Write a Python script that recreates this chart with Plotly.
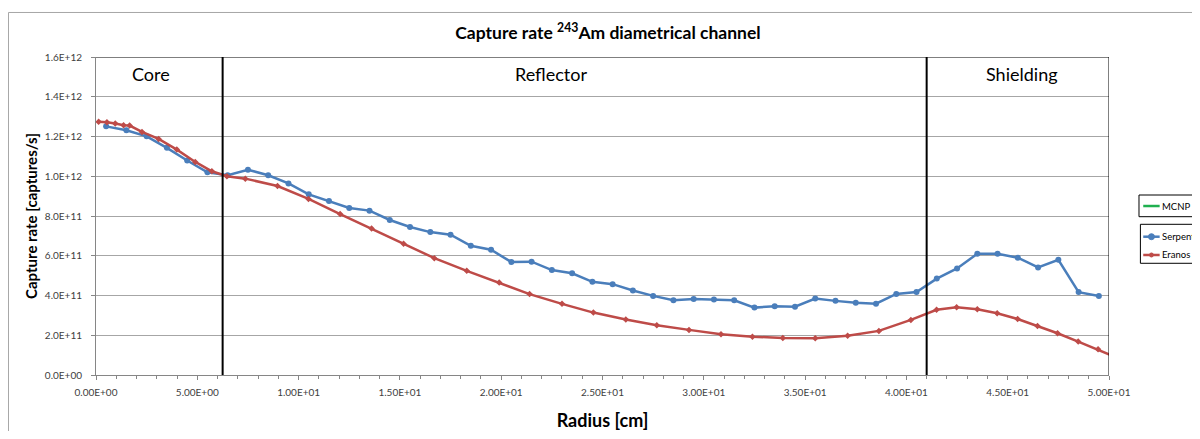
import plotly.graph_objects as go

# Serpent results (captures/s) along the diametrical channel
serpent_r = [0.5, 1.5, 2.5, 3.5, 4.5, 5.5, 6.5, 7.5, 8.5, 9.5,
             10.5, 11.5, 12.5, 13.5, 14.5, 15.5, 16.5, 17.5, 18.5, 19.5,
             20.5, 21.5, 22.5, 23.5, 24.5, 25.5, 26.5, 27.5, 28.5, 29.5,
             30.5, 31.5, 32.5, 33.5, 34.5, 35.5, 36.5, 37.5, 38.5, 39.5,
             40.5, 41.5, 42.5, 43.5, 44.5, 45.5, 46.5, 47.5, 48.5, 49.5]
serpent_rate = [1.251e12, 1.231e12, 1.201e12, 1.143e12, 1.079e12, 1.020e12, 1.005e12, 1.033e12, 1.005e12, 0.964e12,
                0.909e12, 0.875e12, 0.840e12, 0.827e12, 0.780e12, 0.745e12, 0.719e12, 0.706e12, 0.650e12, 0.630e12,
                0.568e12, 0.570e12, 0.528e12, 0.512e12, 0.469e12, 0.457e12, 0.425e12, 0.398e12, 0.376e12, 0.383e12,
                0.380e12, 0.376e12, 0.339e12, 0.346e12, 0.344e12, 0.385e12, 0.373e12, 0.363e12, 0.359e12, 0.408e12,
                0.417e12, 0.485e12, 0.536e12, 0.610e12, 0.610e12, 0.590e12, 0.541e12, 0.580e12, 0.417e12, 0.397e12]

# Eranos results
eranos_r = [0.13, 0.54, 0.95, 1.36, 1.66, 2.27, 3.09, 3.99, 4.90, 5.72,
            6.46, 7.37, 8.96, 10.49, 12.05, 13.60, 15.18, 16.70, 18.30, 19.90,
            21.40, 23.00, 24.55, 26.15, 27.68, 29.27, 30.85, 32.40, 33.90, 35.50,
            37.10, 38.64, 40.22, 41.49, 42.48, 43.50, 44.48, 45.49, 46.47, 47.46,
            48.48, 49.46, 50.46]
eranos_rate = [1.274e12, 1.272e12, 1.265e12, 1.257e12, 1.255e12, 1.223e12, 1.188e12, 1.134e12, 1.072e12, 1.025e12,
               1.000e12, 0.988e12, 0.951e12, 0.886e12, 0.810e12, 0.737e12, 0.660e12, 0.588e12, 0.524e12, 0.465e12,
               0.407e12, 0.358e12, 0.314e12, 0.279e12, 0.250e12, 0.227e12, 0.205e12, 0.193e12, 0.186e12, 0.185e12,
               0.197e12, 0.222e12, 0.277e12, 0.328e12, 0.341e12, 0.331e12, 0.311e12, 0.282e12, 0.247e12, 0.210e12,
               0.168e12, 0.129e12, 0.085e12]

# region boundaries and labels
boundaries = [6.25, 41.0]
regions = ["Core", "Reflector", "Shielding"]
region_x = [2.7, 22.45, 45.7]

# legend entries (MCNP has no points drawn in this plot)
legend_names = ["MCNP 6.1", "Serpent", "Eranos"]
legend_colors = ['#1fb04f', '#4a7ebb', '#be4b48']

y_ticks = [0.0, 0.2e12, 0.4e12, 0.6e12, 0.8e12, 1.0e12, 1.2e12, 1.4e12, 1.6e12]
x_ticks = [0, 5, 10, 15, 20, 25, 30, 35, 40, 45, 50]

FONT = "Lato"

fig = go.Figure()

fig.add_trace(go.Scatter(
    x=serpent_r, y=serpent_rate, mode='lines+markers', name=legend_names[1],
    line=dict(color=legend_colors[1], width=2.5),
    marker=dict(symbol='circle', size=6, color=legend_colors[1]),
    showlegend=False
))
fig.add_trace(go.Scatter(
    x=eranos_r, y=eranos_rate, mode='lines+markers', name=legend_names[2],
    line=dict(color=legend_colors[2], width=2.5),
    marker=dict(symbol='diamond', size=5, color=legend_colors[2]),
    showlegend=False
))

shapes = []
# region boundaries
for b in boundaries:
    shapes.append(dict(type='line', xref='x', yref='y', x0=b, x1=b, y0=0, y1=1.6e12,
                       line=dict(color='black', width=2)))
# top and right plot border
shapes.append(dict(type='line', xref='x', yref='y', x0=0, x1=50, y0=1.6e12, y1=1.6e12,
                   line=dict(color='black', width=1)))
shapes.append(dict(type='line', xref='x', yref='y', x0=50, x1=50, y0=0, y1=1.6e12,
                   line=dict(color='black', width=1)))
# outer chart frame
shapes.append(dict(type='rect', xref='paper', yref='paper', x0=-0.0864, x1=1.2, y0=-0.4, y1=1.140,
                   line=dict(color='#a6a6a6', width=1), layer='below'))

annotations = [
    dict(x=rx, y=1.517e12, xref='x', yref='y', text=lab, showarrow=False,
         font=dict(family=FONT, size=18, color='black'))
    for lab, rx in zip(regions, region_x)
]

# legend boxes, drawn in paper coordinates on the right, cut by the page edge like the original
shapes.append(dict(type='rect', xref='paper', yref='paper', x0=1.0296, x1=1.2, y0=0.4978, y1=0.566,
                   line=dict(color='black', width=1), fillcolor='white'))
shapes.append(dict(type='rect', xref='paper', yref='paper', x0=1.031, x1=1.2, y0=0.3513, y1=0.4739,
                   line=dict(color='black', width=1), fillcolor='white'))
legend_y = [0.5314, 0.4349, 0.3774]
for name, col, ly in zip(legend_names, legend_colors, legend_y):
    shapes.append(dict(type='line', xref='paper', yref='paper', x0=1.0338, x1=1.0500, y0=ly, y1=ly,
                       line=dict(color=col, width=2.5)))
    annotations.append(dict(x=1.0508, y=ly, xref='paper', yref='paper', text=name, showarrow=False,
                            xanchor='left', yanchor='middle',
                            font=dict(family=FONT, size=9.5, color='black')))
# legend markers
shapes.append(dict(type='circle', xref='paper', yref='paper', xsizemode='pixel', ysizemode='pixel',
                   xanchor=1.0419, yanchor=legend_y[1], x0=-3, x1=3, y0=-3, y1=3,
                   line=dict(color=legend_colors[1], width=1), fillcolor=legend_colors[1]))
shapes.append(dict(type='circle', xref='paper', yref='paper', xsizemode='pixel', ysizemode='pixel',
                   xanchor=1.0419, yanchor=legend_y[2], x0=-2, x1=2, y0=-2, y1=2,
                   line=dict(color=legend_colors[2], width=1), fillcolor=legend_colors[2]))

fig.update_layout(
    width=1200, height=423,
    paper_bgcolor='white', plot_bgcolor='white',
    margin=dict(l=88, r=99, t=49, b=56, autoexpand=False),
    font=dict(family=FONT, size=10, color='#404040'),
    showlegend=False,
    title=dict(text="Capture rate <sup>243</sup>Am diametrical channel",
               x=0.5054, xref='paper', y=1 - 25 / 423, yref='container', xanchor='center', yanchor='middle',
               font=dict(family=FONT, size=17.5, color='black', weight='bold')),
    xaxis=dict(
        range=[0, 50], tickvals=x_ticks, ticktext=[f"{v:.2E}" for v in x_ticks],
        showgrid=False, zeroline=False, showline=True, linecolor='#868686', linewidth=1,
        ticks='outside', ticklen=4, tickcolor='#868686', ticklabelstandoff=4,
        minor=dict(dtick=1, ticks='outside', ticklen=3, tickcolor='#868686', showgrid=False),
        tickfont=dict(family=FONT, size=10, color='#404040'),
        title=dict(text="Radius [cm]", standoff=17,
                   font=dict(family=FONT, size=18, color='black', weight='bold')),
    ),
    yaxis=dict(
        range=[0, 1.6e12], tickvals=y_ticks, ticktext=[f"{v:.1E}" for v in y_ticks],
        showgrid=True, gridcolor='#a6a6a6', gridwidth=1, zeroline=False,
        showline=True, linecolor='#868686', linewidth=1,
        ticks='outside', ticklen=4, tickcolor='#868686', ticklabelstandoff=7,
        tickfont=dict(family=FONT, size=10, color='#404040'),
        title=dict(text="Capture rate [captures/s]", standoff=3,
                   font=dict(family=FONT, size=15, color='black', weight='bold')),
    ),
    shapes=shapes,
    annotations=annotations,
)

fig.write_html("out.html")
